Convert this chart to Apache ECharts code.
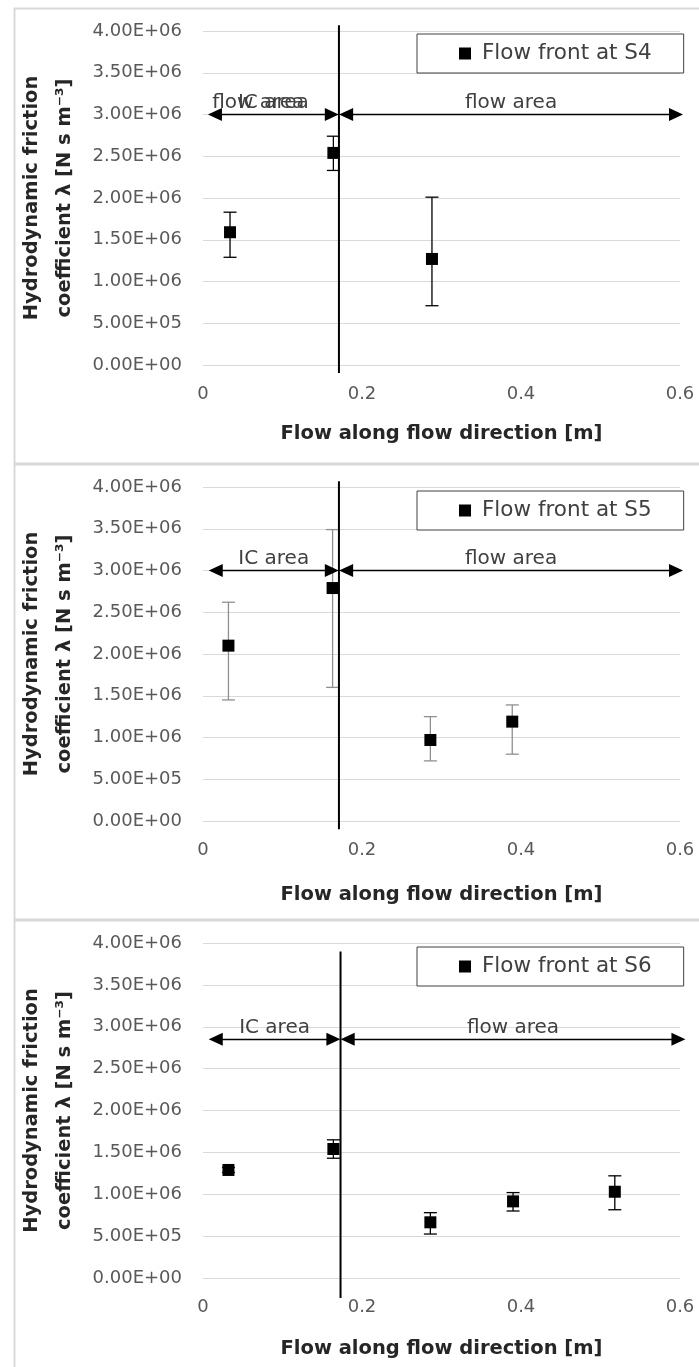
<!DOCTYPE html>
<html>
<head>
<meta charset="utf-8">
<script src="https://cdn.jsdelivr.net/npm/echarts@6/dist/echarts.min.js"></script>
<style>
  html, body { margin: 0; padding: 0; background: #ffffff; }
  #chart { width: 699px; height: 1367px; }
</style>
</head>
<body>
<div id="chart"></div>
<script>
// ---- tick labels ----
const xTickLabels = ['0', '0.2', '0.4', '0.6'];
const yTickLabels = ['0.00E+00', '5.00E+05', '1.00E+06', '1.50E+06', '2.00E+06',
                     '2.50E+06', '3.00E+06', '3.50E+06', '4.00E+06'];

// ---- series names ----
const seriesNames = ['Flow front at S4', 'Flow front at S5', 'Flow front at S6'];

// ---- flow front at S4 ----
const s4X    = [0.034, 0.164, 0.288];
const s4Y    = [1.59e6, 2.54e6, 1.27e6];
const s4Low  = [1.29e6, 2.33e6, 0.71e6];
const s4High = [1.83e6, 2.74e6, 2.01e6];

// ---- flow front at S5 ----
const s5X    = [0.032, 0.163, 0.286, 0.389];
const s5Y    = [2.10e6, 2.79e6, 0.97e6, 1.19e6];
const s5Low  = [1.45e6, 1.60e6, 0.72e6, 0.80e6];
const s5High = [2.62e6, 3.49e6, 1.25e6, 1.39e6];

// ---- flow front at S6 ----
const s6X    = [0.032, 0.164, 0.286, 0.390, 0.518];
const s6Y    = [1.29e6, 1.54e6, 0.665e6, 0.915e6, 1.03e6];
const s6Low  = [1.26e6, 1.43e6, 0.525e6, 0.80e6, 0.815e6];
const s6High = [1.32e6, 1.65e6, 0.78e6, 1.02e6, 1.22e6];

// ---- region markers: IC / flow boundary and area arrows ----
// (arrow segment ends sit half an arrow head inside the tips)
const dividerX      = [0.171, 0.171, 0.173];
const dividerBottom = [-0.096e6, -0.10e6, -0.24e6];
const dividerTop    = [4.07e6, 4.07e6, 3.90e6];
const arrowY        = [3.0e6, 3.0e6, 2.85e6];
const icArrow       = [[0.015, 0.162], [0.016, 0.162], [0.016, 0.164]];
const flowArrow     = [[0.180, 0.595], [0.180, 0.595], [0.182, 0.598]];
const strayTag      = [0.006, 0.133];
const areaLabels    = ['IC area', 'flow area'];

const FONT = 'DejaVu Sans';

// panel layout (pixels)
const gridTop    = [31, 487, 943];
const gridHeight = [334, 334, 335];
const xNameGap   = [59, 64, 61];
const errColor   = ['#000000', '#8f8f8f', '#000000'];

const panelData = [
  { x: s4X, y: s4Y, lo: s4Low, hi: s4High },
  { x: s5X, y: s5Y, lo: s5Low, hi: s5High },
  { x: s6X, y: s6Y, lo: s6Low, hi: s6High }
];

const grids = [], xAxes = [], yAxes = [], series = [], legends = [], borders = [];

panelData.forEach((p, i) => {
  grids.push({ left: 203, width: 477, top: gridTop[i], height: gridHeight[i], containLabel: false });

  xAxes.push({
    gridIndex: i, type: 'value', min: 0, max: 0.6, interval: 0.2,
    axisLine: { show: false }, axisTick: { show: false }, splitLine: { show: false },
    axisLabel: {
      margin: 20, color: '#595959', fontFamily: FONT, fontSize: 18,
      formatter: v => xTickLabels[Math.round(v / 0.2)]
    },
    name: 'Flow along flow direction [m]', nameLocation: 'middle', nameGap: xNameGap[i],
    nameTextStyle: { fontFamily: FONT, fontSize: 19.5, fontWeight: 'bold', color: '#262626' }
  });

  yAxes.push({
    gridIndex: i, type: 'value', min: 0, max: 4e6, interval: 5e5,
    axisLine: { show: false }, axisTick: { show: false },
    splitLine: { show: true, lineStyle: { color: '#d9d9d9', width: 1 } },
    axisLabel: {
      margin: 21, color: '#595959', fontFamily: FONT, fontSize: 18,
      formatter: v => yTickLabels[Math.round(v / 5e5)]
    },
    name: 'Hydrodynamic friction\ncoefficient λ [N s m⁻³]',
    nameLocation: 'middle', nameGap: 110,
    nameTextStyle: { fontFamily: FONT, fontSize: 19.5, fontWeight: 'bold', color: '#262626', lineHeight: 33 }
  });

  // error bars
  series.push({
    type: 'custom', xAxisIndex: i, yAxisIndex: i, z: 2, silent: true,
    encode: { x: 0, y: [1, 2] },
    data: p.x.map((x, k) => [x, p.lo[k], p.hi[k]]),
    renderItem: (params, api) => {
      const x = api.value(0);
      const b = api.coord([x, api.value(1)]);
      const t = api.coord([x, api.value(2)]);
      const hw = 6.5;
      const st = { stroke: errColor[i], lineWidth: 1.3 };
      return {
        type: 'group',
        children: [
          { type: 'line', shape: { x1: t[0], y1: t[1], x2: b[0], y2: b[1] }, style: st },
          { type: 'line', shape: { x1: t[0] - hw, y1: t[1], x2: t[0] + hw, y2: t[1] }, style: st },
          { type: 'line', shape: { x1: b[0] - hw, y1: b[1], x2: b[0] + hw, y2: b[1] }, style: st }
        ]
      };
    }
  });

  // measured points
  series.push({
    name: seriesNames[i], type: 'scatter', xAxisIndex: i, yAxisIndex: i, z: 3,
    symbol: 'rect', symbolSize: 12,
    itemStyle: { color: '#000000', opacity: 1 },
    data: p.x.map((x, k) => [x, p.y[k]])
  });

  // IC/flow boundary with area arrows
  const arrowLabel = txt => ({
    show: true, formatter: txt, position: 'insideMiddleTop', distance: 2,
    color: '#404040', fontFamily: FONT, fontSize: 20
  });
  const markData = [
    [
      { coord: [icArrow[i][0], arrowY[i]], label: arrowLabel(areaLabels[0]) },
      { coord: [icArrow[i][1], arrowY[i]] }
    ],
    [
      { coord: [flowArrow[i][0], arrowY[i]], label: arrowLabel(areaLabels[1]) },
      { coord: [flowArrow[i][1], arrowY[i]] }
    ]
  ];
  if (i === 0) {
    // the first panel also carries a stray "flow area" tag on the IC arrow
    markData.push([
      { coord: [strayTag[0], arrowY[i]], symbol: 'none',
        lineStyle: { color: 'rgba(0,0,0,0)', width: 1 },
        label: arrowLabel(areaLabels[1]) },
      { coord: [strayTag[1], arrowY[i]], symbol: 'none' }
    ]);
  }
  series.push({
    type: 'line', xAxisIndex: i, yAxisIndex: i, z: 4, clip: false, silent: true,
    symbol: 'none', lineStyle: { color: '#000000', width: 2 },
    data: [[dividerX[i], dividerBottom[i]], [dividerX[i], dividerTop[i]]],
    markLine: {
      silent: true, animation: false,
      symbol: ['triangle', 'triangle'], symbolSize: [13, 14],
      lineStyle: { color: '#000000', width: 1.3, type: 'solid' },
      emphasis: { disabled: true },
      data: markData
    }
  });

  legends.push({
    data: [seriesNames[i]], left: 417, top: gridTop[i] + 3 + (i > 0 ? 1 : 0),
    orient: 'horizontal', icon: 'rect', itemWidth: 12, itemHeight: 12,
    padding: [7, 32, 7, 42], backgroundColor: '#ffffff',
    borderColor: '#404040', borderWidth: 1, borderRadius: 0,
    selectedMode: false,
    itemStyle: { color: '#000000', opacity: 1 },
    textStyle: { fontFamily: FONT, fontSize: 21.5, color: '#404040', lineHeight: 25, padding: [0, 0, 0, 6] }
  });
});

// light panel frames
[[12, 6, 455], [12, 462, 455], [12, 918, 460]].forEach(([x, y, h]) => {
  borders.push({
    type: 'rect', left: x, top: y, silent: true, z: -10,
    shape: { width: 690, height: h },
    style: { fill: null, stroke: '#d9d9d9', lineWidth: 2 }
  });
});

const chart = echarts.init(document.getElementById('chart'), null, { renderer: 'canvas' });
chart.setOption({
  animation: false,
  backgroundColor: '#ffffff',
  grid: grids,
  xAxis: xAxes,
  yAxis: yAxes,
  legend: legends,
  series: series,
  graphic: borders
});
</script>
</body>
</html>
